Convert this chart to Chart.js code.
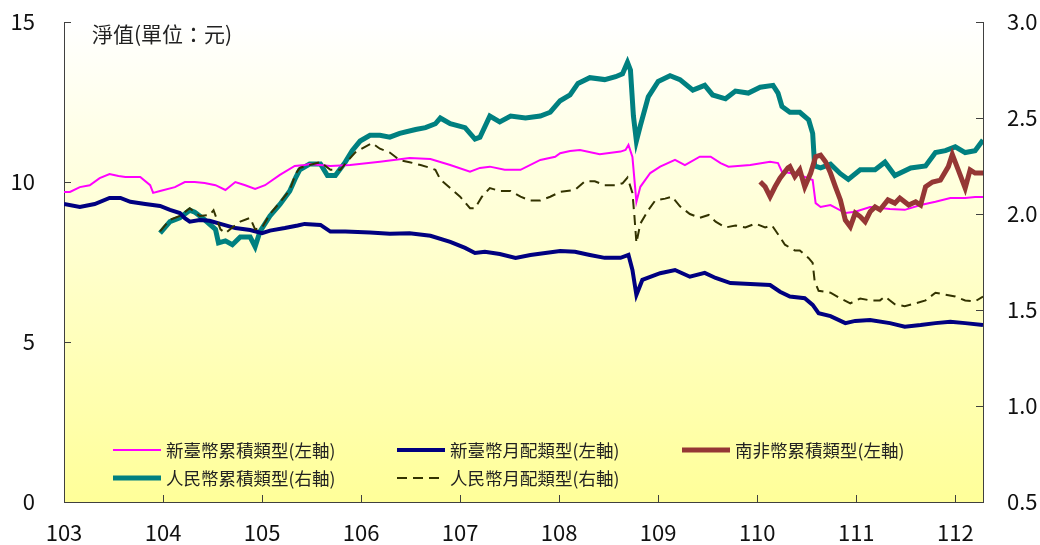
<!DOCTYPE html>
<html lang="zh-Hant">
<head>
<meta charset="UTF-8">
<title>淨值走勢</title>
<script src="https://cdn.jsdelivr.net/npm/chart.js"></script>
<style>
  body { margin: 0; background: #fff; }
  canvas { display: block; }
</style>
</head>
<body>
<canvas id="navChart" width="1040" height="545"></canvas>
<script>
// x = 民國年 (decimal), y = 淨值
const twdAcc = [[103.00,9.69],[103.06,9.69],[103.16,9.84],[103.26,9.9],[103.36,10.12],[103.46,10.25],[103.55,10.19],[103.62,10.16],[103.77,10.16],[103.87,9.9],[103.90,9.66],[103.97,9.72],[104.12,9.84],[104.22,10.0],[104.32,10.0],[104.42,9.97],[104.53,9.9],[104.63,9.75],[104.73,10.0],[104.83,9.9],[104.93,9.78],[105.03,9.9],[105.18,10.22],[105.33,10.5],[105.43,10.53],[105.48,10.56],[105.69,10.5],[105.89,10.53],[106.19,10.63],[106.49,10.75],[106.70,10.72],[106.90,10.53],[107.10,10.32],[107.20,10.44],[107.30,10.48],[107.45,10.38],[107.61,10.38],[107.81,10.69],[107.96,10.79],[108.01,10.9],[108.11,10.97],[108.21,11.0],[108.41,10.87],[108.62,10.95],[108.67,11.0],[108.70,11.16],[108.74,10.78],[108.78,9.38],[108.82,9.85],[108.92,10.28],[109.02,10.48],[109.17,10.69],[109.27,10.53],[109.42,10.79],[109.53,10.79],[109.63,10.59],[109.71,10.48],[109.93,10.53],[110.13,10.63],[110.21,10.59],[110.25,10.32],[110.33,10.28],[110.43,10.22],[110.56,10.06],[110.59,9.34],[110.64,9.22],[110.74,9.28],[110.89,9.03],[110.99,9.07],[111.14,9.22],[111.34,9.16],[111.49,9.13],[111.65,9.28],[111.80,9.38],[111.95,9.5],[112.10,9.5],[112.20,9.53],[112.28,9.53]];

const twdMon = [[103.00,9.31],[103.16,9.22],[103.31,9.31],[103.46,9.5],[103.57,9.5],[103.67,9.38],[103.82,9.31],[103.97,9.25],[104.07,9.13],[104.17,9.03],[104.22,8.87],[104.27,8.76],[104.37,8.81],[104.47,8.79],[104.58,8.69],[104.73,8.56],[104.88,8.5],[105.00,8.4],[105.08,8.48],[105.23,8.56],[105.36,8.64],[105.43,8.69],[105.59,8.66],[105.69,8.45],[105.84,8.45],[106.09,8.42],[106.29,8.38],[106.49,8.4],[106.70,8.32],[106.90,8.13],[107.05,7.94],[107.15,7.78],[107.25,7.82],[107.40,7.75],[107.56,7.63],[107.71,7.72],[107.86,7.78],[108.01,7.84],[108.16,7.82],[108.31,7.72],[108.46,7.63],[108.62,7.63],[108.70,7.72],[108.74,7.25],[108.78,6.47],[108.84,6.94],[109.02,7.15],[109.17,7.25],[109.32,7.04],[109.47,7.16],[109.58,7.0],[109.73,6.84],[109.93,6.81],[110.13,6.78],[110.23,6.57],[110.33,6.42],[110.48,6.37],[110.56,6.16],[110.62,5.9],[110.74,5.81],[110.89,5.59],[110.99,5.66],[111.14,5.69],[111.34,5.59],[111.49,5.48],[111.65,5.53],[111.80,5.59],[111.95,5.63],[112.10,5.59],[112.28,5.53]];

const zarAcc = [[110.03,10.01],[110.08,9.85],[110.13,9.54],[110.18,9.85],[110.23,10.12],[110.31,10.44],[110.33,10.48],[110.38,10.17],[110.43,10.38],[110.48,9.85],[110.54,10.28],[110.59,10.79],[110.64,10.84],[110.69,10.63],[110.74,10.28],[110.79,9.85],[110.84,9.44],[110.89,8.81],[110.94,8.6],[110.99,9.03],[111.04,8.92],[111.09,8.76],[111.14,9.07],[111.19,9.22],[111.24,9.13],[111.32,9.44],[111.39,9.34],[111.44,9.5],[111.53,9.28],[111.60,9.38],[111.65,9.28],[111.70,9.85],[111.77,10.0],[111.85,10.06],[111.93,10.48],[111.97,10.86],[112.03,10.38],[112.10,9.81],[112.15,10.38],[112.20,10.28],[112.28,10.28]];

// right axis
const rmbAcc = [[103.97,1.90],[104.07,1.96],[104.17,1.98],[104.27,2.02],[104.32,2.01],[104.42,1.97],[104.53,1.92],[104.56,1.85],[104.63,1.86],[104.70,1.84],[104.78,1.88],[104.88,1.88],[104.93,1.83],[104.98,1.91],[105.08,1.99],[105.18,2.05],[105.28,2.12],[105.34,2.19],[105.38,2.23],[105.48,2.26],[105.59,2.26],[105.66,2.2],[105.74,2.2],[105.84,2.27],[105.91,2.33],[105.99,2.38],[106.09,2.41],[106.19,2.41],[106.29,2.40],[106.39,2.42],[106.55,2.44],[106.65,2.45],[106.75,2.47],[106.80,2.5],[106.90,2.47],[107.05,2.45],[107.15,2.39],[107.20,2.40],[107.30,2.51],[107.40,2.48],[107.51,2.51],[107.66,2.5],[107.81,2.51],[107.91,2.53],[108.01,2.59],[108.11,2.62],[108.19,2.68],[108.31,2.71],[108.46,2.70],[108.57,2.715],[108.64,2.73],[108.69,2.79],[108.72,2.75],[108.75,2.51],[108.78,2.38],[108.82,2.46],[108.90,2.61],[109.00,2.69],[109.12,2.72],[109.22,2.70],[109.35,2.645],[109.47,2.67],[109.55,2.62],[109.68,2.60],[109.78,2.64],[109.91,2.63],[110.03,2.66],[110.16,2.67],[110.21,2.63],[110.25,2.56],[110.33,2.53],[110.43,2.53],[110.52,2.49],[110.56,2.42],[110.58,2.25],[110.64,2.24],[110.74,2.26],[110.84,2.21],[110.92,2.18],[111.04,2.23],[111.19,2.23],[111.29,2.27],[111.39,2.20],[111.55,2.24],[111.70,2.25],[111.80,2.32],[111.90,2.33],[112.00,2.35],[112.10,2.32],[112.20,2.33],[112.28,2.385]];

const rmbMon = [[103.97,1.91],[104.07,1.97],[104.17,1.99],[104.27,2.03],[104.37,1.99],[104.47,1.995],[104.51,2.02],[104.58,1.92],[104.63,1.90],[104.70,1.93],[104.78,1.96],[104.88,1.98],[104.93,1.92],[105.00,1.93],[105.08,2.0],[105.18,2.06],[105.28,2.125],[105.34,2.21],[105.38,2.24],[105.48,2.255],[105.59,2.27],[105.69,2.23],[105.79,2.23],[105.87,2.28],[105.94,2.32],[106.04,2.35],[106.11,2.37],[106.19,2.34],[106.29,2.32],[106.39,2.28],[106.49,2.27],[106.60,2.255],[106.70,2.24],[106.75,2.23],[106.80,2.18],[106.90,2.135],[107.00,2.09],[107.10,2.03],[107.15,2.03],[107.22,2.09],[107.30,2.135],[107.40,2.12],[107.51,2.12],[107.61,2.09],[107.71,2.07],[107.81,2.07],[107.91,2.09],[108.01,2.115],[108.16,2.125],[108.26,2.17],[108.36,2.17],[108.46,2.15],[108.57,2.15],[108.64,2.16],[108.69,2.19],[108.74,2.11],[108.76,1.99],[108.78,1.85],[108.82,1.95],[108.90,2.02],[108.97,2.07],[109.07,2.08],[109.14,2.09],[109.22,2.04],[109.32,2.0],[109.42,1.98],[109.51,1.995],[109.58,1.96],[109.68,1.93],[109.78,1.94],[109.88,1.93],[109.98,1.95],[110.08,1.93],[110.15,1.94],[110.23,1.88],[110.28,1.84],[110.38,1.81],[110.43,1.81],[110.52,1.77],[110.56,1.745],[110.58,1.65],[110.62,1.60],[110.74,1.59],[110.84,1.56],[110.94,1.535],[111.04,1.56],[111.14,1.55],[111.24,1.55],[111.29,1.57],[111.39,1.53],[111.49,1.52],[111.60,1.535],[111.70,1.55],[111.80,1.59],[111.90,1.58],[112.00,1.57],[112.10,1.55],[112.20,1.545],[112.28,1.57]];

const seriesNames = ['新臺幣累積類型(左軸)', '新臺幣月配類型(左軸)', '南非幣累積類型(左軸)', '人民幣累積類型(右軸)', '人民幣月配類型(右軸)'];
const yearTicks = [103, 104, 105, 106, 107, 108, 109, 110, 111, 112];
const unitLabel = '淨值(單位：元)';

const FONT = '"Noto Sans CJK TC", "Noto Sans", sans-serif';
const toXY = arr => arr.map(p => ({ x: p[0], y: p[1] }));

// background gradient on plot area
const bgPlugin = {
  id: 'bg',
  beforeDraw(chart) {
    const { ctx, chartArea: a } = chart;
    const g = ctx.createLinearGradient(0, a.top, 0, a.bottom);
    g.addColorStop(0, '#ffffff');
    g.addColorStop(1, '#ffff99');
    ctx.save();
    ctx.fillStyle = g;
    ctx.fillRect(a.left, a.top, a.right - a.left, a.bottom - a.top);
    ctx.restore();
  }
};

// inward tick marks, unit label and legend
const extrasPlugin = {
  id: 'extras',
  afterDraw(chart) {
    const { ctx, chartArea: a, scales } = chart;
    ctx.save();
    ctx.strokeStyle = '#404040';
    ctx.lineWidth = 1;
    ctx.beginPath();
    scales.y.ticks.forEach(t => {
      const py = Math.round(scales.y.getPixelForValue(t.value)) + 0.5;
      ctx.moveTo(a.left, py); ctx.lineTo(a.left + 7, py);
    });
    scales.y2.ticks.forEach(t => {
      const py = Math.round(scales.y2.getPixelForValue(t.value)) + 0.5;
      ctx.moveTo(a.right, py); ctx.lineTo(a.right - 7, py);
    });
    yearTicks.forEach(v => {
      const px = Math.round(scales.x.getPixelForValue(v)) + 0.5;
      ctx.moveTo(px, a.bottom); ctx.lineTo(px, a.bottom - 7);
    });
    ctx.stroke();

    ctx.fillStyle = '#222';
    ctx.font = '21px ' + FONT;
    ctx.textBaseline = 'middle';
    ctx.fillText(unitLabel, 92, 34);

    // legend
    const slots = [[113, 450], [397, 450], [682, 450], [113, 478], [397, 478]];
    ctx.font = '17.5px ' + FONT;
    chart.data.datasets.forEach((ds, i) => {
      const [lx, ly] = slots[i];
      ctx.beginPath();
      ctx.strokeStyle = ds.borderColor;
      ctx.lineWidth = ds.borderWidth;
      ctx.setLineDash(ds.borderDash || []);
      ctx.moveTo(lx, ly); ctx.lineTo(lx + 48, ly);
      ctx.stroke();
      ctx.setLineDash([]);
      ctx.fillStyle = '#222';
      ctx.fillText(ds.label, lx + 53, ly);
    });
    ctx.restore();
  }
};

// hidden grid; tickLength only sets the label offset
const hiddenGrid = len => ({ display: false, drawTicks: true, tickLength: len });

new Chart(document.getElementById('navChart'), {
  type: 'line',
  data: {
    datasets: [
      { label: seriesNames[0], data: toXY(twdAcc), yAxisID: 'y', borderColor: '#ff00ff', borderWidth: 2, order: 2 },
      { label: seriesNames[1], data: toXY(twdMon), yAxisID: 'y', borderColor: '#000080', borderWidth: 4, order: 3 },
      { label: seriesNames[2], data: toXY(zarAcc), yAxisID: 'y', borderColor: '#953735', borderWidth: 5, order: 1 },
      { label: seriesNames[3], data: toXY(rmbAcc), yAxisID: 'y2', borderColor: '#008080', borderWidth: 5, order: 4 },
      { label: seriesNames[4], data: toXY(rmbMon), yAxisID: 'y2', borderColor: '#333300', borderWidth: 2, borderDash: [10, 6], order: 0 }
    ]
  },
  options: {
    responsive: false,
    animation: false,
    layout: { padding: { top: 22, left: 0, right: 0, bottom: 0 } },
    elements: { point: { radius: 0 }, line: { tension: 0, fill: false } },
    plugins: { legend: { display: false }, tooltip: { enabled: false } },
    scales: {
      x: {
        type: 'linear', min: 103, max: 112.28,
        grid: hiddenGrid(8),
        border: { display: true, color: '#404040', width: 1 },
        ticks: { stepSize: 1, includeBounds: false, padding: 9, color: '#111', font: { family: FONT, size: 22 } },
        afterFit: s => { s.height = 43; }
      },
      y: {
        position: 'left', min: 0, max: 15,
        grid: hiddenGrid(29),
        border: { display: true, color: '#404040', width: 1 },
        ticks: { stepSize: 5, padding: 0, color: '#111', font: { family: FONT, size: 22 } },
        afterFit: s => { s.width = 64; }
      },
      y2: {
        position: 'right', min: 0.5, max: 3.0,
        grid: hiddenGrid(24),
        border: { display: true, color: '#404040', width: 1 },
        ticks: { stepSize: 0.5, padding: 0, color: '#111', font: { family: FONT, size: 22 }, callback: v => v.toFixed(1) },
        afterFit: s => { s.width = 57; }
      }
    }
  },
  plugins: [bgPlugin, extrasPlugin]
});
</script>
</body>
</html>
